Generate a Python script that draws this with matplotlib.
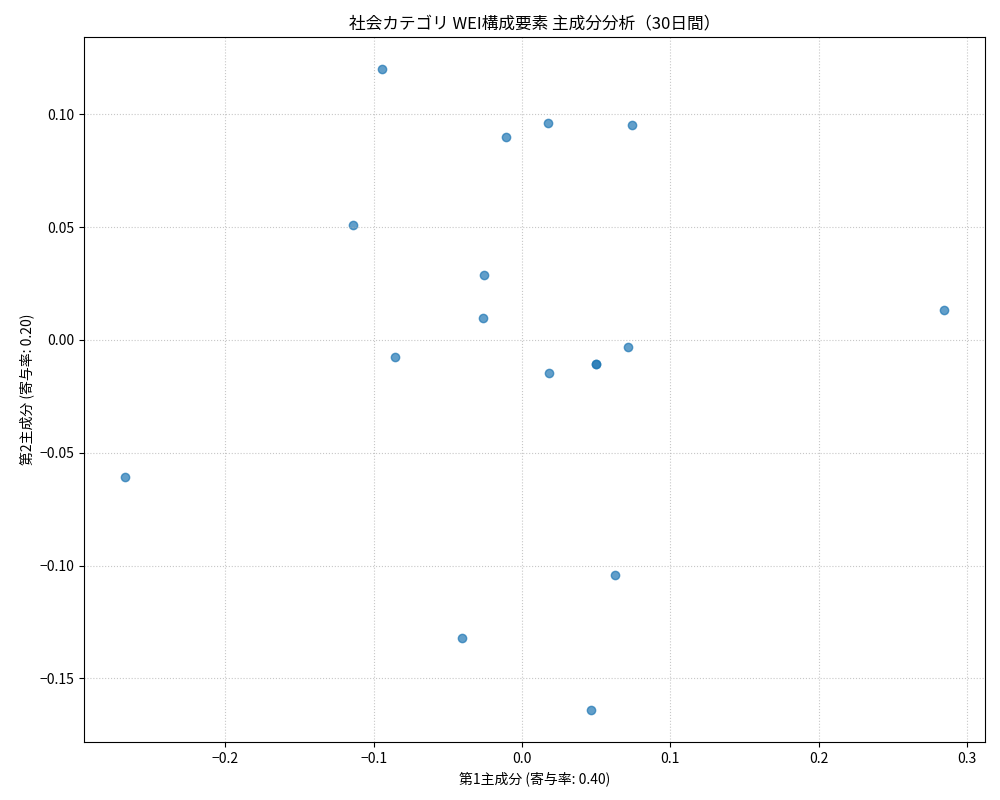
import numpy as np
import matplotlib.pyplot as plt

plt.rcParams['font.family'] = ['Noto Sans CJK JP', 'DejaVu Sans']

# 主成分得点
pc1 = [-0.0944, 0.0175, 0.0742, -0.0108, -0.114, -0.0256, 0.2846, -0.0263,
       0.0715, -0.0856, 0.0499, 0.0499, 0.0182, -0.2677, 0.0627, -0.0405, 0.0465]
pc2 = [0.1201, 0.0962, 0.0953, 0.0900, 0.0510, 0.0288, 0.0133, 0.0098,
       -0.0031, -0.0075, -0.0106, -0.0106, -0.0146, -0.0607, -0.1042, -0.1321, -0.1640]
ratio = [0.40, 0.20]

fig, ax = plt.subplots(figsize=(10, 8), dpi=100)
ax.scatter(pc1, pc2, alpha=0.7)
ax.set_title("社会カテゴリ WEI構成要素 主成分分析（30日間）")
ax.set_xlabel(f"第1主成分 (寄与率: {ratio[0]:.2f})")
ax.set_ylabel(f"第2主成分 (寄与率: {ratio[1]:.2f})")
ax.grid(True, linestyle=':', alpha=0.7)
plt.subplots_adjust(left=0.084, right=0.985, top=0.954, bottom=0.0725)
plt.savefig("out.png")
